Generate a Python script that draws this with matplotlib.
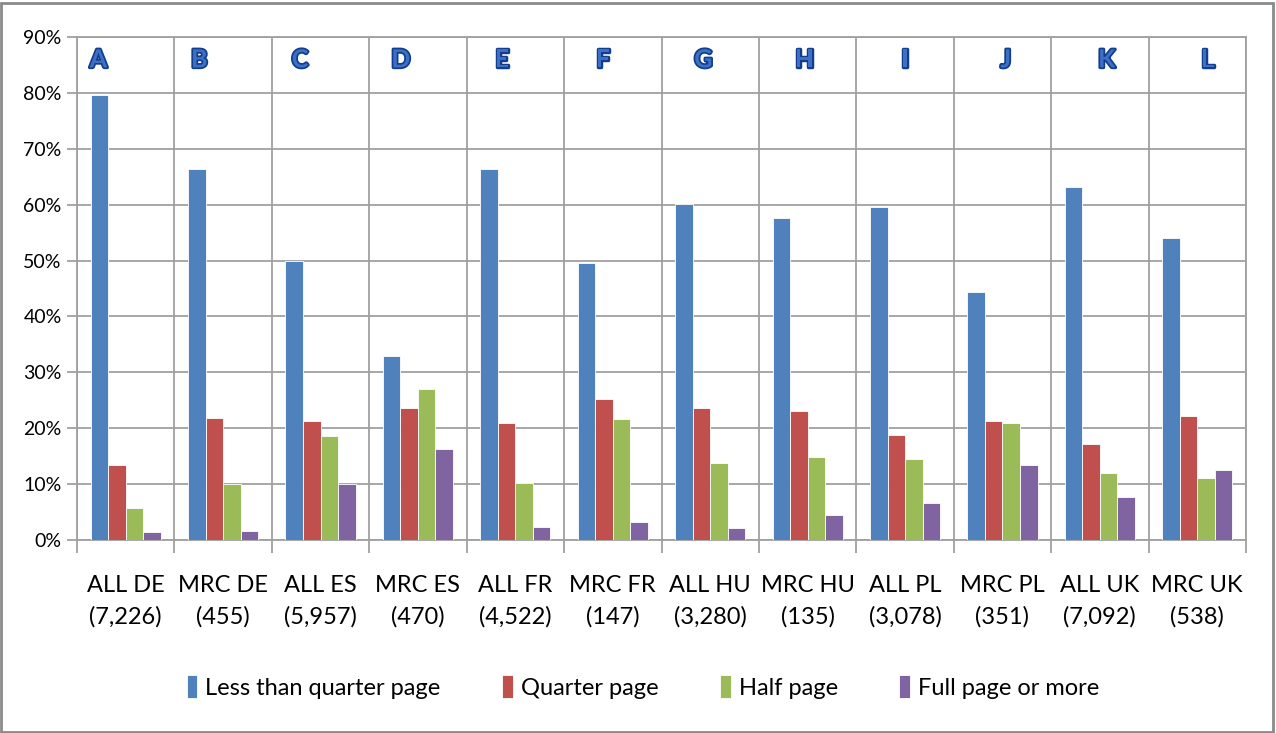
import matplotlib
matplotlib.use("Agg")
import matplotlib.pyplot as plt
import matplotlib.patheffects as pe
from matplotlib.patches import Rectangle
import numpy as np

plt.rcParams['font.family'] = ['Lato', 'DejaVu Sans']

categories = ["ALL DE\n(7,226)", "MRC DE\n(455)", "ALL ES\n(5,957)", "MRC ES\n(470)",
              "ALL FR\n(4,522)", "MRC FR\n(147)", "ALL HU\n(3,280)", "MRC HU\n(135)",
              "ALL PL\n(3,078)", "MRC PL\n(351)", "ALL UK\n(7,092)", "MRC UK\n(538)"]
letters = list("ABCDEFGHIJKL")
series_names = ["Less than quarter page", "Quarter page", "Half page", "Full page or more"]
less_than_quarter = [79.6, 66.4, 49.9, 32.9, 66.4, 49.5, 60.1, 57.6, 59.5, 44.3, 63.2, 54.1]
quarter = [13.4, 21.8, 21.3, 23.7, 20.9, 25.2, 23.7, 23.1, 18.8, 21.3, 17.1, 22.2]
half = [5.7, 10.1, 18.6, 27.1, 10.2, 21.6, 13.7, 14.8, 14.5, 20.9, 11.9, 11.1]
full = [1.4, 1.6, 10.1, 16.2, 2.3, 3.3, 2.2, 4.5, 6.7, 13.4, 7.7, 12.5]
yticks = [0, 10, 20, 30, 40, 50, 60, 70, 80, 90]
colors = ["#4F81BD", "#C0504D", "#9BBB59", "#8064A2"]

fig = plt.figure(figsize=(12.76, 7.33), dpi=100)
ax = fig.add_axes([77/1276, 1-540/733, (1246-77)/1276, (540-37)/733])

n = len(categories)
x = np.arange(n)
bw = 0.18
data = [less_than_quarter, quarter, half, full]
for k, (vals, c, name) in enumerate(zip(data, colors, series_names)):
    ax.bar(x + (k - 1.5) * bw, vals, bw, color=c, label=name,
           edgecolor='white', linewidth=0.6, zorder=3)

ax.set_xlim(-0.5, n - 0.5)
ax.set_ylim(0, 90)
ax.set_yticks(yticks)
ax.set_yticklabels([f"{v}%" for v in yticks], fontsize=14)
ax.yaxis.grid(True, color='#A0A0A0', linewidth=1.3, zorder=0)
for b in np.arange(n + 1) - 0.5:
    ax.axvline(b, color='#A0A0A0', linewidth=1.3, zorder=0)
ax.set_xticks(np.arange(n + 1) - 0.5, minor=True)
ax.set_xticks(x)
ax.set_xticklabels(categories, fontsize=17, linespacing=1.6)
ax.tick_params(axis='x', which='major', length=0, pad=25)
ax.tick_params(axis='x', which='minor', length=9, color='#A0A0A0', width=1.3)
ax.tick_params(axis='y', length=7, color='#A0A0A0', width=1.3, pad=4)
for s in ax.spines.values():
    s.set_color('#A0A0A0')
    s.set_linewidth(1.3)

for i, L in enumerate(letters):
    ax.text(i - 0.28 + 0.035 * i, 85.9, L, ha='center', va='center', fontsize=18,
            fontweight='bold', color='#3B70C4', zorder=5,
            path_effects=[pe.withStroke(linewidth=2.5, foreground='#123D8C')])

fig.legend(loc='center', bbox_to_anchor=(643/1276, 1-687/733), ncol=4, frameon=False,
           fontsize=17, handlelength=0.45, handleheight=1.1, handletextpad=0.35,
           columnspacing=2.6)

fig.patches.append(Rectangle((1/1276, 1/733), 1272/1276, 729/733, transform=fig.transFigure,
                             fill=False, edgecolor='#8A8A8A', linewidth=2))

fig.savefig("out.png", dpi=100)
